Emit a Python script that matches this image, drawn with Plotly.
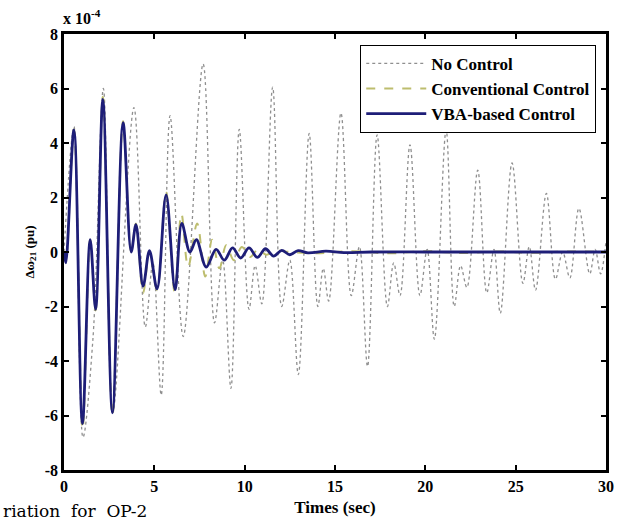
import plotly.graph_objects as go

# values in units of 1e-4 pu (extrema of each trace)
t_no = [0, 0.55, 1.05, 1.6, 2.18, 2.7, 3.87, 4.5, 4.92, 5.38, 5.87, 6.6, 7.7, 8.33, 8.78, 9.24,
        9.7, 10.24, 10.58, 10.95, 11.55, 12.05, 12.5, 12.97, 13.57, 14.05, 14.35, 14.65, 15.33,
        15.9, 16.35, 16.8, 17.33, 17.9, 18.25, 18.6, 19.15, 19.7, 20.1, 20.5, 21.15, 21.6, 21.95,
        22.3, 22.9, 23.4, 23.8, 24.15, 24.8, 25.4, 25.75, 26.1, 26.7, 27.2, 27.6, 28.0, 28.5,
        29.1, 29.4, 29.7, 30]
v_no = [0, 4.6, -6.8, -3.2, 6.0, -5.9, 5.3, -2.75, -0.4, -5.25, 5.0, -3.1, 6.9, -2.6, -0.3, -5.0,
        4.5, -2.1, -0.5, -1.9, 6.05, -2.0, -0.3, -4.5, 4.35, -2.0, -0.6, -1.8, 5.1,
        -1.6, 0.2, -4.2, 4.3, -2.0, -0.4, -1.6, 3.93, -1.6, 0.1, -3.2, 4.48, -2.0, -0.5,
        -1.3, 3.0, -1.5, 0.1, -2.25, 3.27, -1.15, 0.2, -1.4, 2.15, -1.0, 0.0, -0.95, 1.6,
        -0.8, 0.1, -0.8, 0.4]

t_conv = [0, 0.1, 0.55, 1.03, 1.45, 1.75, 2.15, 2.68, 3.27, 3.72, 3.98, 4.38, 4.73, 5.15, 5.65,
          6.12, 6.5, 6.87, 7.37, 7.82, 8.2, 8.6, 8.98, 9.4, 9.85, 10.3, 10.75, 11.2, 11.7, 12.5,
          14, 16, 18, 20, 22, 24, 26, 28, 30]
v_conv = [0, -0.4, 4.5, -6.5, 0.45, -2.15, 5.7, -6.0, 4.8, 0.0, 1.05, -1.5, 0.0, -1.4, 2.2,
          -1.45, 1.4, -0.55, 1.05, -0.9, 0.45, -0.6, 0.25, -0.3, 0.18, -0.18, 0.1, -0.1, 0.05, 0.0,
          -0.05, 0.03, -0.05, 0.03, -0.04, 0.02, -0.03, 0.02, 0.0]

t_vba = [0, 0.1, 0.55, 1.02, 1.45, 1.75, 2.15, 2.68, 3.27, 3.72, 3.98, 4.38, 4.73, 5.15, 5.65,
         6.15, 6.52, 6.97, 7.33, 7.87, 8.42, 8.87, 9.33, 9.78, 10.24, 10.7, 11.15, 11.6, 12.05,
         12.5, 12.96, 13.5, 14.5, 15.5, 17, 20, 23, 26, 30]
v_vba = [0, -0.4, 4.48, -6.3, 0.45, -2.1, 5.6, -5.9, 4.75, 0.0, 1.0, -1.25, 0.05, -1.35, 2.1,
         -1.38, 1.05, 0.0, 0.45, -0.55, 0.1, -0.3, 0.15, -0.22, 0.15, -0.2, 0.12, -0.15, 0.06,
         -0.1, 0.05, -0.03, 0.03, -0.02, 0.0, 0.0, 0.0, 0.0, 0.0]

x_ticks = [0, 5, 10, 15, 20, 25, 30]
y_ticks = [-8, -6, -4, -2, 0, 2, 4, 6, 8]

SERIF = "Liberation Serif, Times New Roman, serif"

fig = go.Figure()
fig.add_trace(go.Scatter(x=t_no, y=v_no, mode="lines", name="No Control",
                         line=dict(color="#8f8f8f", width=1.3, dash="dot", shape="spline", smoothing=1.0)))
fig.add_trace(go.Scatter(x=t_conv, y=v_conv, mode="lines", name="Conventional Control",
                         line=dict(color="#bdbd6e", width=2, dash="dash", shape="spline", smoothing=1.0)))
fig.add_trace(go.Scatter(x=t_vba, y=v_vba, mode="lines", name="VBA-based Control",
                         line=dict(color="#1e1e78", width=2.8, shape="spline", smoothing=1.0)))

axis_common = dict(showline=True, linecolor="black", linewidth=2.5, mirror="ticks",
                   ticks="inside", ticklen=5, tickwidth=2, tickcolor="black",
                   showgrid=False, zeroline=False,
                   tickfont=dict(family=SERIF, size=16, color="black", weight="bold"))

fig.update_xaxes(range=[0, 30], tickvals=x_ticks, ticktext=[str(v) for v in x_ticks],
                 title=dict(text="Times (sec)", font=dict(family=SERIF, size=17, color="black", weight="bold"),
                            standoff=8),
                 **axis_common)
fig.update_yaxes(range=[-8, 8], tickvals=y_ticks, ticktext=[str(v) for v in y_ticks],
                 title=dict(text="Δω<sub>21</sub> (pu)", font=dict(family=SERIF, size=13, color="black", weight="bold"),
                            standoff=8),
                 **axis_common)

fig.add_annotation(xref="paper", yref="paper", x=-0.005, y=1.012, xanchor="left", yanchor="bottom",
                   text="x 10<sup>-4</sup>", showarrow=False,
                   font=dict(family=SERIF, size=16, color="black", weight="bold"))
fig.add_annotation(xref="paper", yref="paper", x=-64 / 550, y=-41 / 436, xanchor="left", yanchor="middle",
                   text="riation  for  OP-2", showarrow=False,
                   font=dict(family="DejaVu Serif, serif", size=17, color="black"))

fig.update_layout(
    width=623, height=524,
    margin=dict(l=64, r=9, t=34, b=54),
    paper_bgcolor="white", plot_bgcolor="white",
    showlegend=True,
    legend=dict(x=0.982, y=0.975, xanchor="right", yanchor="top",
                bgcolor="white", bordercolor="black", borderwidth=1,
                font=dict(family=SERIF, size=17, color="black", weight="bold"),
                tracegroupgap=0, itemwidth=60),
)

fig.write_html("out.html")
